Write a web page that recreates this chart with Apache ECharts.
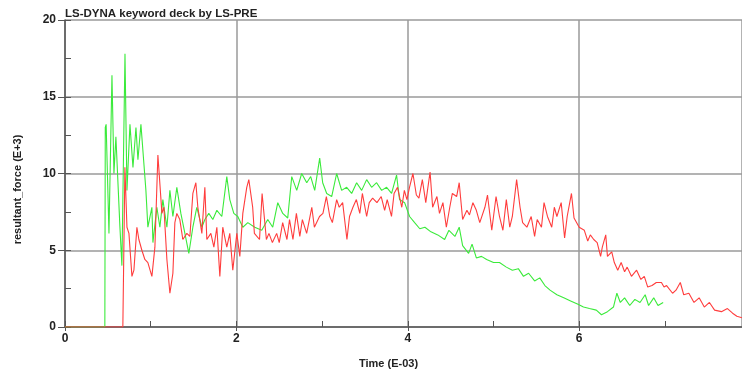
<!DOCTYPE html>
<html>
<head>
<meta charset="utf-8">
<script src="https://cdn.jsdelivr.net/npm/echarts@6/dist/echarts.min.js"></script>
<style>
  html, body { margin: 0; padding: 0; background: #ffffff; }
  #chart { width: 742px; height: 376px; }
</style>
</head>
<body>
<div id="chart"></div>
<script>
// Resultant force histories (force in E+3, time in E-03)
const greenTime = [
  0, 0.465, 0.470, 0.480, 0.513, 0.548, 0.571, 0.594, 0.641, 0.664, 0.700, 0.723, 0.758, 0.793, 0.828, 0.851,
  0.886, 0.909, 0.944, 0.967, 1.014, 1.026, 1.072, 1.107, 1.142, 1.189, 1.224, 1.259, 1.305, 1.352, 1.399, 1.445,
  1.492, 1.538, 1.597, 1.632, 1.678, 1.725, 1.772, 1.830, 1.888, 1.923, 1.970, 2.016, 2.075, 2.133, 2.214, 2.296,
  2.366, 2.424, 2.483, 2.541, 2.599, 2.646, 2.704, 2.762, 2.821, 2.867, 2.914, 2.972, 3.007, 3.054, 3.112, 3.170,
  3.228, 3.287, 3.345, 3.403, 3.462, 3.520, 3.578, 3.636, 3.695, 3.753, 3.811, 3.869, 3.904, 3.963, 4.021, 4.080,
  4.140, 4.200, 4.270, 4.350, 4.430, 4.480, 4.550, 4.600, 4.640, 4.710, 4.750, 4.800, 4.860, 4.920, 5.000, 5.070,
  5.150, 5.220, 5.290, 5.350, 5.410, 5.480, 5.540, 5.600, 5.660, 5.740, 5.820, 5.900, 5.980, 6.050, 6.120, 6.200,
  6.260, 6.330, 6.400, 6.440, 6.480, 6.530, 6.590, 6.650, 6.710, 6.770, 6.810, 6.870, 6.920, 6.980
];
const greenForce = [
  0, 0, 13.0, 13.2, 6.1, 16.4, 10.0, 12.4, 6.5, 4.0, 17.8, 8.9, 13.2, 10.4, 13.0, 10.9,
  13.2, 11.5, 8.9, 6.5, 7.8, 5.5, 7.8, 6.5, 8.3, 6.5, 8.9, 7.2, 9.1, 7.4, 6.1, 4.8,
  6.5, 7.8, 6.5, 7.0, 7.4, 7.0, 7.6, 7.2, 9.8, 8.3, 7.4, 7.2, 6.5, 6.8, 6.5, 6.3,
  7.0, 6.5, 8.1, 7.4, 7.1, 9.8, 8.9, 10.0, 9.4, 9.8, 8.9, 11.0, 9.4, 8.7, 8.5, 10.0,
  8.9, 9.1, 8.7, 9.4, 8.9, 9.6, 9.1, 9.4, 8.9, 9.1, 8.7, 9.9, 8.3, 8.1, 7.2, 6.8,
  6.4, 6.5, 6.2, 6.0, 5.7, 6.3, 5.9, 6.5, 5.3, 4.8, 5.4, 4.5, 4.6, 4.4, 4.2, 4.2,
  3.9, 3.7, 3.8, 3.3, 3.5, 3.0, 3.2, 2.7, 2.4, 2.1, 1.9, 1.7, 1.5, 1.3, 1.2, 1.1,
  0.8, 1.0, 1.3, 2.2, 1.6, 1.9, 1.4, 1.8, 1.6, 2.1, 1.4, 1.9, 1.4, 1.6
];

const redTime = [
  0, 0.675, 0.699, 0.723, 0.746, 0.781, 0.804, 0.839, 0.862, 0.897, 0.932, 0.967, 1.014, 1.049, 1.084, 1.131,
  1.154, 1.189, 1.224, 1.259, 1.282, 1.305, 1.340, 1.375, 1.422, 1.457, 1.492, 1.527, 1.550, 1.597, 1.632, 1.655,
  1.702, 1.737, 1.772, 1.807, 1.841, 1.888, 1.923, 1.958, 2.005, 2.040, 2.075, 2.121, 2.145, 2.190, 2.210, 2.270,
  2.300, 2.350, 2.380, 2.420, 2.470, 2.500, 2.540, 2.590, 2.620, 2.660, 2.700, 2.740, 2.770, 2.820, 2.880, 2.910,
  2.970, 3.010, 3.050, 3.090, 3.120, 3.170, 3.200, 3.240, 3.290, 3.320, 3.360, 3.400, 3.440, 3.470, 3.520, 3.550,
  3.590, 3.640, 3.690, 3.730, 3.760, 3.810, 3.840, 3.880, 3.930, 3.960, 3.990, 4.020, 4.060, 4.100, 4.130, 4.170,
  4.210, 4.260, 4.290, 4.340, 4.370, 4.410, 4.450, 4.490, 4.520, 4.570, 4.600, 4.640, 4.690, 4.720, 4.760, 4.800,
  4.840, 4.900, 4.930, 4.980, 5.030, 5.070, 5.110, 5.150, 5.190, 5.220, 5.270, 5.310, 5.340, 5.390, 5.440, 5.480,
  5.510, 5.560, 5.590, 5.630, 5.680, 5.710, 5.740, 5.790, 5.830, 5.860, 5.910, 5.940, 6.000, 6.060, 6.100, 6.130,
  6.170, 6.210, 6.250, 6.270, 6.310, 6.330, 6.380, 6.410, 6.450, 6.490, 6.530, 6.560, 6.610, 6.670, 6.720, 6.760,
  6.800, 6.850, 6.900, 6.960, 6.990, 7.020, 7.090, 7.130, 7.180, 7.220, 7.280, 7.340, 7.400, 7.460, 7.520, 7.580,
  7.660, 7.730, 7.790, 7.840, 7.900
];
const redForce = [
  0, 0, 10.4, 6.5, 6.1, 3.3, 3.7, 6.5, 5.7, 5.0, 4.4, 4.2, 3.3, 5.2, 11.2, 7.4,
  7.8, 4.4, 2.2, 3.5, 6.8, 7.4, 7.0, 5.7, 6.1, 5.9, 8.7, 9.4, 7.8, 6.1, 9.1, 5.7,
  6.1, 5.2, 6.5, 3.3, 6.5, 5.2, 6.1, 3.7, 6.1, 4.6, 7.4, 9.1, 9.6, 7.8, 6.1, 5.7,
  8.7, 5.7, 6.1, 5.5, 6.1, 5.5, 6.8, 5.7, 7.0, 5.7, 7.4, 5.9, 7.0, 6.1, 7.8, 6.5,
  7.2, 7.4, 8.5, 7.2, 6.8, 8.3, 7.8, 8.1, 5.7, 7.2, 7.8, 8.3, 7.4, 8.7, 7.2, 8.1,
  8.4, 8.1, 8.5, 7.6, 8.3, 7.2, 8.7, 9.1, 7.8, 8.9, 8.3, 9.1, 10.0, 8.6, 8.4, 9.6,
  8.1, 10.1, 7.8, 8.5, 7.4, 8.1, 6.5, 7.8, 8.7, 8.5, 9.4, 7.0, 7.6, 7.3, 8.1, 7.6,
  6.8, 7.8, 8.6, 6.3, 8.5, 7.2, 6.3, 8.3, 6.5, 7.2, 9.6, 7.8, 6.8, 6.5, 7.2, 5.9,
  7.0, 6.5, 8.1, 7.2, 6.5, 7.8, 7.2, 8.1, 5.8, 7.2, 8.7, 7.1, 6.5, 6.3, 5.6, 6.0,
  5.7, 5.5, 4.6, 5.2, 6.0, 4.6, 4.9, 4.2, 3.7, 4.2, 3.6, 3.9, 3.3, 3.7, 3.1, 3.3,
  2.6, 2.7, 2.9, 2.9, 2.6, 2.7, 2.2, 2.4, 2.9, 2.1, 2.2, 1.6, 1.9, 1.3, 1.6, 1.1,
  1.0, 1.2, 0.9, 0.7, 0.6
];

const xTicks = [0, 2, 4, 6];
const yTicks = [0, 5, 10, 15, 20];

const pairs = (t, v) => t.map((x, i) => [x, v[i]]);

const boldFont = { fontFamily: 'Liberation Sans, Arial, sans-serif', fontWeight: 'bold', color: '#222' };
const axisDark = '#555';
const gridGray = '#9a9a9a';

const chart = echarts.init(document.getElementById('chart'), null, { renderer: 'canvas' });
chart.setOption({
  animation: false,
  backgroundColor: '#ffffff',
  title: {
    text: 'LS-DYNA keyword deck by LS-PRE',
    left: 60, top: 3,
    textStyle: Object.assign({ fontSize: 11.5 }, boldFont)
  },
  grid: { left: 65, right: 0, top: 20, bottom: 49 },
  xAxis: [
    {
      // major divisions: labels, grid lines, ticks pointing down
      type: 'value', min: 0, max: 7.9, interval: 2,
      name: 'Time (E-03)', nameLocation: 'middle', nameGap: 31,
      nameTextStyle: Object.assign({ fontSize: 11, padding: [0, 30, 0, 0] }, boldFont),
      axisLine: { show: true, lineStyle: { color: axisDark, width: 1.5 } },
      axisTick: { show: true, inside: false, length: 4, lineStyle: { color: axisDark } },
      splitLine: { show: true, lineStyle: { color: gridGray, width: 1.5 } },
      axisLabel: Object.assign({
        fontSize: 12, margin: 6, showMaxLabel: false,
        formatter: v => (xTicks.includes(v) ? String(v) : '')
      }, boldFont)
    },
    {
      // half divisions: short ticks pointing into the plot
      type: 'value', min: 0, max: 7.9, interval: 1, position: 'bottom',
      axisLine: { show: false },
      axisTick: { show: true, inside: true, length: 6, lineStyle: { color: axisDark } },
      splitLine: { show: false },
      axisLabel: { show: false }
    }
  ],
  yAxis: [
    {
      type: 'value', min: 0, max: 20, interval: 5,
      name: 'resultant_force (E+3)', nameLocation: 'middle', nameGap: 42, nameRotate: 90,
      nameTextStyle: Object.assign({ fontSize: 11, padding: [0, 32, 0, 0] }, boldFont),
      axisLine: { show: true, lineStyle: { color: axisDark, width: 1.5 } },
      axisTick: { show: true, inside: false, length: 7, lineStyle: { color: axisDark } },
      splitLine: { show: true, lineStyle: { color: gridGray, width: 1.5 } },
      axisLabel: Object.assign({
        fontSize: 12, margin: 9,
        formatter: v => (yTicks.includes(v) ? String(v) : '')
      }, boldFont)
    },
    {
      type: 'value', min: 0, max: 20, interval: 2.5, position: 'left',
      axisLine: { show: false },
      axisTick: { show: true, inside: true, length: 6, lineStyle: { color: axisDark } },
      splitLine: { show: false },
      axisLabel: { show: false }
    }
  ],
  series: [
    {
      name: 'green', type: 'line', data: pairs(greenTime, greenForce),
      xAxisIndex: 0, yAxisIndex: 0,
      showSymbol: false, symbol: 'none',
      lineStyle: { color: '#3bea3b', width: 1.1 }, z: 3
    },
    {
      name: 'red', type: 'line', data: pairs(redTime, redForce),
      xAxisIndex: 0, yAxisIndex: 0,
      showSymbol: false, symbol: 'none',
      lineStyle: { color: '#ff3d3d', width: 1.1 }, z: 4
    }
  ]
});
</script>
</body>
</html>
